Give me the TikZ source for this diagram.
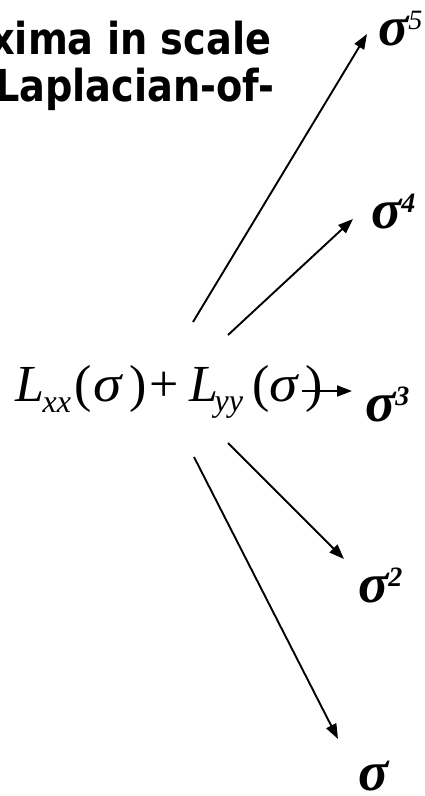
\documentclass[tikz,border=0pt]{standalone}
\usepackage{fontspec}
\setmainfont{Liberation Serif}
\newfontfamily\titlefont[FakeStretch=0.87]{DejaVu Sans}
\usetikzlibrary{arrows.meta}
\tikzset{
  titletext/.style={anchor=base west, inner sep=0pt, font=\titlefont\bfseries\fontsize{44}{44}\selectfont},
  sigmalabel/.style={anchor=base west, inner sep=0pt, font=\fontsize{56}{56}\selectfont\bfseries\itshape},
  scalearrow/.style={line width=1.9pt, -{Triangle[length=15pt,width=11pt]}},
}
\newcommand{\supnum}[1]{\raisebox{16pt}{\fontsize{28}{28}\selectfont #1}}
\newcommand{\putat}[2]{\makebox[0pt][l]{\hspace{#1pt}#2}}
\newcommand{\widesig}{\scalebox{1.1}[1]{\textit{σ}}}
\begin{document}
\begin{tikzpicture}[x=1pt,y=-1pt]
\useasboundingbox[fill=white] (0,0) rectangle (425,796);
% title fragments
\node[titletext] (t1) at (-10,54) {xima in scale};
\node[titletext] (t2) at (-5,101) {Laplacian-of-};
% formula
\node[anchor=base west, inner sep=0pt, font=\fontsize{52}{52}\selectfont] (f) at (15,401)
  {\putat{0}{\textit{L}}%
   \putat{27}{\raisebox{-11pt}{\fontsize{32}{32}\selectfont\textit{xx}}}%
   \putat{59}{(}%
   \putat{78}{\widesig}%
   \putat{114}{)}%
   \putat{134}{+}%
   \putat{174}{\textit{L}}%
   \putat{199}{\raisebox{-10pt}{\fontsize{32}{32}\selectfont\textit{yy}}}%
   \putat{237}{(}%
   \putat{254}{\widesig}%
   \putat{290}{)}%
   \hspace{303pt}};
% labels
\node[sigmalabel] (s5) at (378,45) {σ\supnum{\mdseries 5}};
\node[sigmalabel] (s4) at (371,228) {σ\supnum{4}};
\node[sigmalabel] (s3) at (365,421) {σ\supnum{3}};
\node[sigmalabel] (s2) at (358,602) {σ\supnum{2}};
\node[sigmalabel] (s1) at (358,790) {σ};
% arrow end points
\coordinate (a5s) at (193,322); \coordinate (a5e) at (367,34);
\coordinate (a4s) at (228,335); \coordinate (a4e) at (353,219);
\coordinate (a3s) at (302,391); \coordinate (a3e) at (352,391);
\coordinate (a2s) at (228,443); \coordinate (a2e) at (344,559);
\coordinate (a1s) at (194,457); \coordinate (a1e) at (338,739);
\draw[scalearrow] (a5s) -- (a5e);
\draw[scalearrow] (a4s) -- (a4e);
\draw[scalearrow] (a3s) -- (a3e);
\draw[scalearrow] (a2s) -- (a2e);
\draw[scalearrow] (a1s) -- (a1e);
\end{tikzpicture}
\end{document}
